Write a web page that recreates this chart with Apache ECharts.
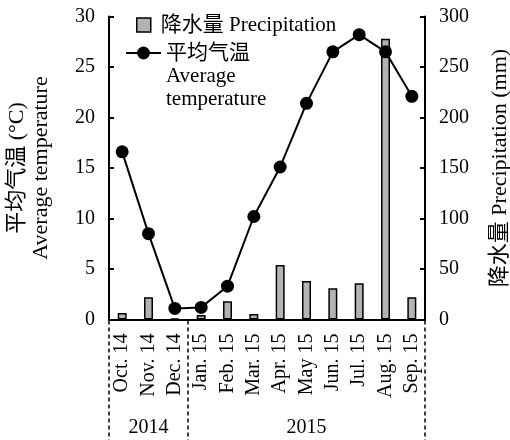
<!DOCTYPE html>
<html><head><meta charset="utf-8">
<script src="https://cdn.jsdelivr.net/npm/echarts@6/dist/echarts.min.js"></script>
<style>html,body{margin:0;padding:0;background:#fff}#c{width:510px;height:440px}</style>
</head><body><div id="c"></div>
<script>
const categories = ['Oct. 14','Nov. 14','Dec. 14','Jan. 15','Feb. 15','Mar. 15','Apr. 15','May 15','Jun. 15','Jul. 15','Aug. 15','Sep. 15'];
const temperature = [16.6, 8.5, 1.1, 1.2, 3.3, 10.2, 15.1, 21.4, 26.5, 28.2, 26.5, 22.1];
const precipitation = [6.5, 22, 0.8, 4.5, 18, 5.5, 54, 38, 31, 36, 278, 22];
const tempAxis = { min: 0, max: 30, interval: 5 };
const precAxis = { min: 0, max: 300, interval: 50 };
const years = ['2014', '2015'];
const yearMonthCounts = [3, 9];
const precName = '降水量 Precipitation';
const tempName = '平均气温\nAverage\ntemperature';

const FONT = "'Liberation Serif', 'Noto Sans CJK SC', serif";
const chart = echarts.init(document.getElementById('c'), null, { renderer: 'canvas' });

const option = {
  animation: false,
  backgroundColor: '#fff',
  grid: { left: 109, right: 85, top: 16.5, bottom: 120.5, containLabel: false, outerBoundsMode: 'none' },
  legend: [
    {
      data: [precName], left: 136, top: 14, padding: 0,
      icon: 'path://M0,0H10V10H0Z', itemWidth: 24, itemHeight: 14, symbolKeepAspect: true,
      textStyle: { fontFamily: FONT, fontSize: 21, color: '#000', lineHeight: 22 },
      itemStyle: { borderColor: '#000', borderWidth: 1.5 }
    },
    {
      data: [tempName], left: 125, top: -4.5, padding: 0, itemWidth: 35, itemHeight: 16,
      formatter: function (name) { return '\n\n' + name; },
      textStyle: { fontFamily: FONT, fontSize: 21, color: '#000', lineHeight: 23 }
    }
  ],
  xAxis: {
    type: 'category', data: categories, boundaryGap: true,
    axisLine: { lineStyle: { color: '#000', width: 2 } },
    axisTick: { show: false },
    axisLabel: { interval: 0, rotate: 90, margin: 14, fontFamily: FONT, fontSize: 20, color: '#000' }
  },
  yAxis: [
    {
      type: 'value', min: tempAxis.min, max: tempAxis.max, interval: tempAxis.interval,
      name: '平均气温 (°C)\nAverage temperature', nameLocation: 'middle', nameGap: 56, nameRotate: 90,
      nameTextStyle: { fontFamily: FONT, fontSize: 22, color: '#000', lineHeight: 24 },
      axisLine: { show: true, lineStyle: { color: '#000', width: 2 } },
      axisTick: { show: true, inside: true, length: 5, lineStyle: { color: '#000', width: 2 } },
      axisLabel: { margin: 14, fontFamily: FONT, fontSize: 20, color: '#000' },
      splitLine: { show: false }
    },
    {
      type: 'value', min: precAxis.min, max: precAxis.max, interval: precAxis.interval, position: 'right',
      name: '降水量 Precipitation (mm)', nameLocation: 'middle', nameGap: 64, nameRotate: 90,
      nameTextStyle: { fontFamily: FONT, fontSize: 22, color: '#000' },
      axisLine: { show: true, lineStyle: { color: '#000', width: 2 } },
      axisTick: { show: true, inside: true, length: 5, lineStyle: { color: '#000', width: 2 } },
      axisLabel: { margin: 14, fontFamily: FONT, fontSize: 20, color: '#000' },
      splitLine: { show: false }
    }
  ],
  series: [
    {
      name: precName, type: 'bar', yAxisIndex: 1, data: precipitation, barWidth: 9,
      itemStyle: { color: '#b3b3b3', borderColor: '#000', borderWidth: 1.5 }, z: 2
    },
    {
      name: tempName, type: 'line', yAxisIndex: 0, data: temperature,
      symbol: 'circle', symbolSize: 13,
      lineStyle: { color: '#000', width: 2 }, itemStyle: { color: '#000' }, z: 3
    }
  ]
};
chart.setOption(option);

// separators and year labels placed from the category axis scale
const c0 = chart.convertToPixel({ xAxisIndex: 0 }, categories[0]);
const c1 = chart.convertToPixel({ xAxisIndex: 0 }, categories[1]);
const band = c1 - c0;
const yBase = chart.convertToPixel({ yAxisIndex: 0 }, 0);
const graphics = [];
let idx = 0;
const bounds = [c0 - band / 2];
yearMonthCounts.forEach(n => { idx += n; bounds.push(c0 - band / 2 + band * idx); });
bounds.forEach(x => {
  graphics.push({ type: 'line', shape: { x1: x, y1: yBase + 1, x2: x, y2: 440 },
    style: { stroke: '#000', lineWidth: 1.5, lineDash: [4, 3] } });
});
years.forEach((yr, i) => {
  graphics.push({ type: 'text', x: (bounds[i] + bounds[i + 1]) / 2, y: 428,
    style: { text: yr, font: "20px 'Liberation Serif'", fill: '#000', textAlign: 'center', textVerticalAlign: 'middle' } });
});
chart.setOption({ graphic: graphics });
</script></body></html>
